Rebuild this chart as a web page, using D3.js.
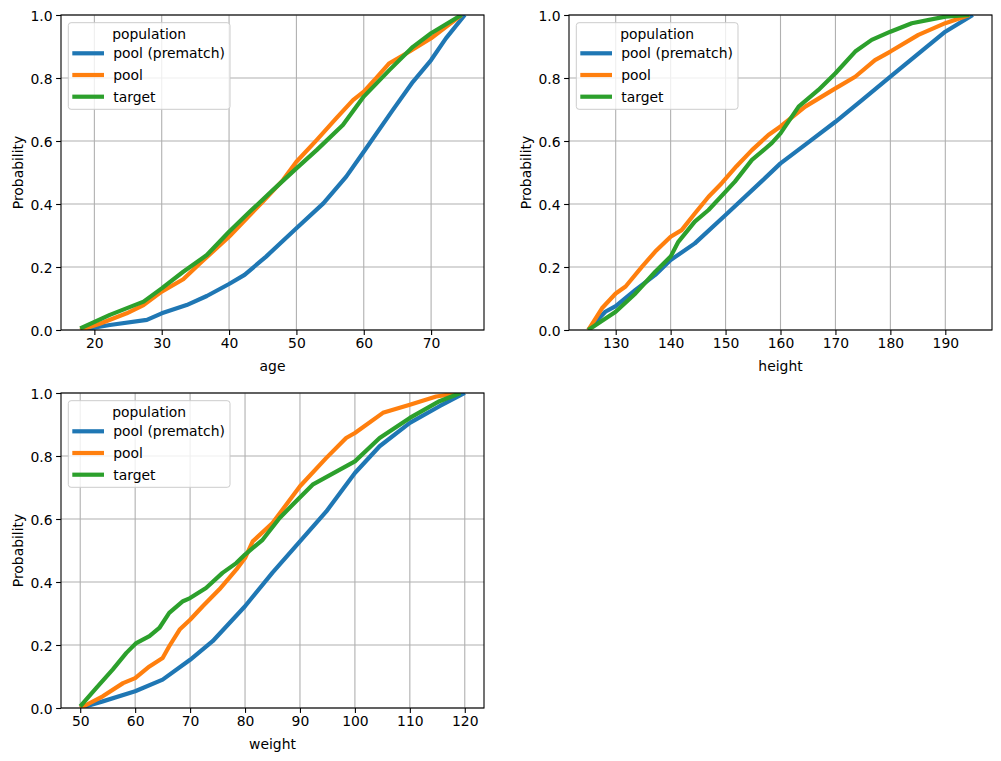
<!DOCTYPE html>
<html>
<head>
<meta charset="utf-8">
<script src="https://cdn.jsdelivr.net/npm/d3@7"></script>
<style>
  html, body { margin: 0; padding: 0; background: #fff; }
  svg { display: block; font-family: "DejaVu Sans", sans-serif; }
</style>
</head>
<body>
<svg id="chart" width="1001" height="761"></svg>
<script>
// ---------- DATA ----------
const seriesNames = ["pool (prematch)", "pool", "target"];
const yTicks = [0, 0.2, 0.4, 0.6, 0.8, 1.0];

const ageTicks = [20, 30, 40, 50, 60, 70];
const agePremach = [[17.9,0],[22.3,0.016],[27.8,0.032],[30,0.053],[33.7,0.079],[36.7,0.108],[40,0.146],[42.3,0.175],[45.5,0.233],[50,0.323],[54,0.402],[57.4,0.487],[60,0.566],[64.3,0.698],[67.3,0.788],[70,0.857],[72.2,0.926],[75,1.0]];
const agePool = [[17.9,0],[20.8,0.02],[24.8,0.053],[27.3,0.079],[30,0.122],[33.2,0.161],[35.7,0.212],[40,0.296],[42.6,0.354],[45,0.407],[48,0.476],[50,0.534],[53,0.603],[55.9,0.672],[58.4,0.73],[60,0.757],[61.8,0.799],[63.8,0.847],[66.8,0.884],[70,0.926],[74.5,1.0]];
const ageTarget = [[17.9,0.005],[22.3,0.048],[27.3,0.09],[30,0.132],[33.2,0.185],[36.7,0.238],[40,0.312],[43.1,0.376],[46.5,0.444],[50,0.513],[53,0.571],[56.9,0.651],[60,0.741],[63.8,0.825],[67.3,0.899],[70,0.942],[74.5,1.0]];

const heightTicks = [130, 140, 150, 160, 170, 180, 190];
const heightPremach = [[125,0],[128.1,0.058],[130,0.076],[133.6,0.127],[137.2,0.175],[140,0.222],[144.4,0.275],[150,0.365],[156.5,0.471],[160,0.529],[165,0.595],[170,0.661],[175,0.732],[180,0.804],[185,0.876],[190,0.947],[195,1.0]];
const heightPool = [[125,0],[127.5,0.069],[130,0.116],[131.8,0.138],[134.8,0.201],[137.2,0.249],[140,0.296],[142,0.317],[144.4,0.37],[146.9,0.423],[149.3,0.466],[152,0.52],[154.8,0.571],[157.8,0.619],[160,0.646],[164.5,0.709],[170,0.767],[173.6,0.804],[177.2,0.857],[180,0.884],[185.1,0.937],[190,0.974],[194.4,1.0]];
const heightTarget = [[125,0],[130,0.058],[133.6,0.116],[137.2,0.185],[140,0.233],[141.4,0.28],[144.4,0.344],[146.9,0.381],[151.7,0.471],[154.8,0.54],[158.4,0.593],[160,0.624],[163.3,0.709],[166.9,0.762],[170,0.815],[173.6,0.884],[176.6,0.921],[180,0.947],[183.9,0.974],[190,0.995],[194.4,1.0]];

const weightTicks = [50, 60, 70, 80, 90, 100, 110, 120];
const weightPremach = [[50,0],[54.1,0.021],[60,0.053],[65,0.09],[70,0.153],[74.1,0.212],[80,0.323],[85,0.43],[90,0.529],[94.8,0.624],[100,0.746],[104.5,0.831],[110,0.905],[115.4,0.958],[120,1.0]];
const weightPool = [[50,0],[54.1,0.037],[57.8,0.079],[60,0.095],[62.6,0.132],[65,0.159],[66.2,0.196],[68.1,0.249],[70,0.28],[72.3,0.323],[75.3,0.376],[78.4,0.439],[80,0.476],[81.4,0.529],[85,0.587],[90,0.704],[94.8,0.794],[98.4,0.857],[100,0.873],[105.1,0.937],[110,0.963],[114.8,0.989],[119.2,1.0]];
const weightTarget = [[50,0.005],[52.9,0.063],[55.9,0.122],[58.4,0.175],[60.2,0.206],[62.6,0.228],[64.4,0.254],[66.2,0.302],[68.7,0.339],[70,0.349],[72.9,0.381],[75.9,0.429],[78.4,0.46],[80,0.487],[83.2,0.534],[86.3,0.603],[88.7,0.646],[92.3,0.709],[100,0.783],[104.5,0.857],[110,0.921],[115.4,0.974],[119.2,1.0]];

// ---------- STYLE / LAYOUT ----------
const colors = ["#1f77b4", "#ff7f0e", "#2ca02c"];
const fontSize = 13.9;
const lineW = 4.2;
const panels = [
  { label: "age",    ticks: ageTicks,    series: [agePremach, agePool, ageTarget],          left: 61,  top: 15,  ylabX: 23 },
  { label: "height", ticks: heightTicks, series: [heightPremach, heightPool, heightTarget], left: 569, top: 15,  ylabX: 531 },
  { label: "weight", ticks: weightTicks, series: [weightPremach, weightPool, weightTarget], left: 61,  top: 393, ylabX: 23 }
];
const W = 423, H = 315;

const svg = d3.select("#chart");

panels.forEach((p, i) => {
  const all = p.series.flat();
  const [mn, mx] = d3.extent(all, d => d[0]);
  const pad = (mx - mn) * 0.05;
  const x = d3.scaleLinear().domain([mn - pad, mx + pad]).range([0, W]);
  const y = d3.scaleLinear().domain([0, 1]).range([H, 0]);

  const g = svg.append("g").attr("transform", `translate(${p.left},${p.top})`);

  const clipId = "clip" + i;
  g.append("clipPath").attr("id", clipId).append("rect").attr("width", W).attr("height", H);

  // grid
  const grid = g.append("g");
  grid.selectAll("line.vx").data(p.ticks).join("line")
    .attr("x1", d => x(d)).attr("x2", d => x(d)).attr("y1", 0).attr("y2", H)
    .attr("stroke", "#b0b0b0").attr("stroke-width", 1.1);
  grid.selectAll("line.hy").data(yTicks).join("line")
    .attr("x1", 0).attr("x2", W).attr("y1", d => y(d)).attr("y2", d => y(d))
    .attr("stroke", "#b0b0b0").attr("stroke-width", 1.1);

  // lines
  const line = d3.line().x(d => x(d[0])).y(d => y(d[1])).curve(d3.curveLinear);
  const lg = g.append("g").attr("clip-path", `url(#${clipId})`);
  p.series.forEach((s, k) => {
    lg.append("path").datum(s).attr("d", line)
      .attr("fill", "none").attr("stroke", colors[k])
      .attr("stroke-width", lineW).attr("stroke-linejoin", "round");
  });

  // axes
  const xAxis = d3.axisBottom(x).tickValues(p.ticks).tickSize(4.9).tickPadding(3.5).tickFormat(d3.format("d"));
  const yAxis = d3.axisLeft(y).tickValues(yTicks).tickSize(4.9).tickPadding(3.5).tickFormat(d3.format(".1f"));
  const gx = g.append("g").attr("transform", `translate(0,${H})`).call(xAxis);
  const gy = g.append("g").call(yAxis);
  [gx, gy].forEach(a => {
    a.select(".domain").remove();
    a.selectAll(".tick line").attr("stroke", "#000").attr("stroke-width", 1.1);
    a.selectAll(".tick text").attr("fill", "#000").attr("font-size", fontSize).attr("font-family", "DejaVu Sans");
  });
  gy.selectAll(".tick text").attr("dy", "0.36em");

  // spines
  g.append("rect").attr("width", W).attr("height", H)
    .attr("fill", "none").attr("stroke", "#000").attr("stroke-width", 1.1);

  // axis labels
  g.append("text").attr("x", W / 2).attr("y", H + 41).attr("text-anchor", "middle")
    .attr("font-size", fontSize).attr("fill", "#000").text(p.label);
  g.append("text").attr("transform", `translate(${p.ylabX - p.left},${H / 2}) rotate(-90)`)
    .attr("text-anchor", "middle").attr("font-size", fontSize).attr("fill", "#000").text("Probability");

  // legend
  const leg = g.append("g").attr("transform", "translate(7.3,7.7)");
  leg.append("rect").attr("width", 161.7).attr("height", 86.6).attr("rx", 2.8)
    .attr("fill", "#fff").attr("fill-opacity", 0.8).attr("stroke", "#cccccc").attr("stroke-width", 1);
  leg.append("text").attr("x", 161.7 / 2).attr("y", 16.6).attr("text-anchor", "middle")
    .attr("font-size", fontSize).attr("fill", "#000").text("population");
  seriesNames.forEach((nm, k) => {
    const cy = 30.6 + k * 21.7;
    leg.append("line").attr("x1", 4).attr("x2", 35.7).attr("y1", cy).attr("y2", cy)
      .attr("stroke", colors[k]).attr("stroke-width", lineW);
    leg.append("text").attr("x", 45).attr("y", cy + 5).attr("font-size", fontSize)
      .attr("fill", "#000").text(nm);
  });
});
</script>
</body>
</html>
